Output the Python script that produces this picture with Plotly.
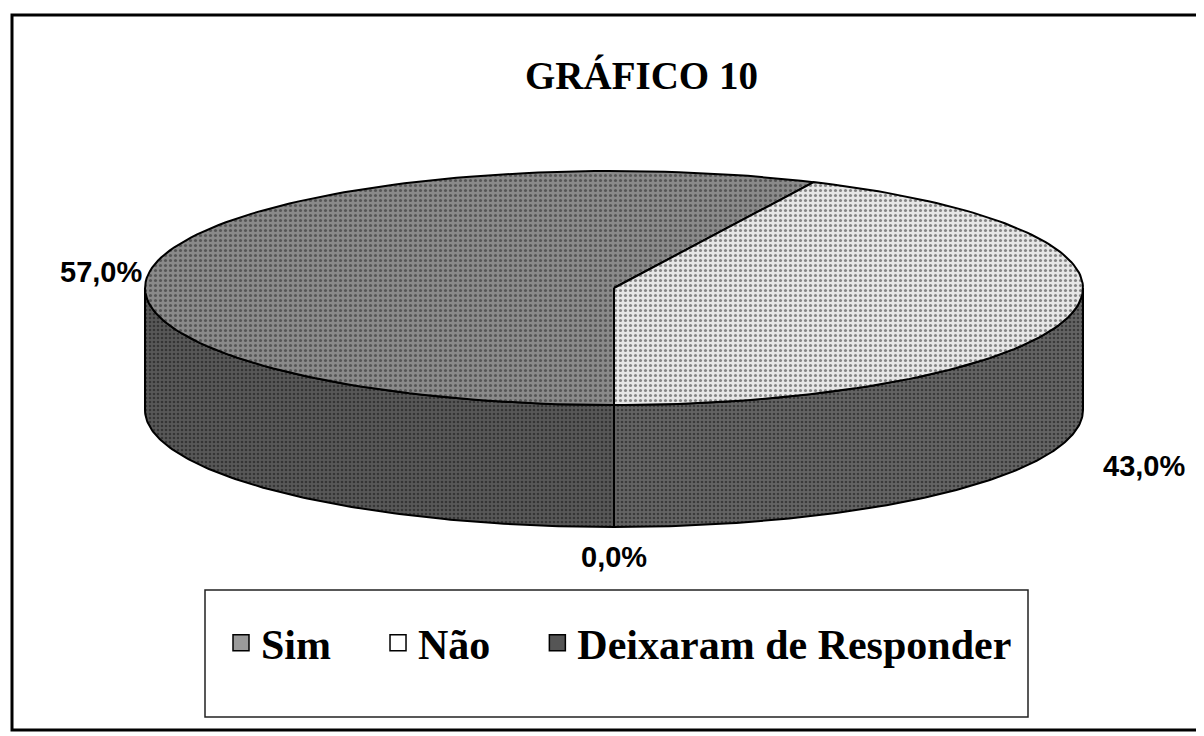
import numpy as np
import plotly.graph_objects as go

# ---- data ----
categories = ["Sim", "Não", "Deixaram de Responder"]
values = [57.0, 43.0, 0.0]
title_text = "GRÁFICO 10"

# ---- style / geometry ----
# the page body has an 8px margin, so the plot starts at (8, 8) on screen;
# axis ranges are offset so that one unit equals one screen pixel
OFF = 8
W, H = 1204 - OFF, 736 - OFF
CX, CY, RX, RY, DEPTH = 614, 288, 469, 117, 122
START = 270.0  # degrees, front of the pie; slices run clockwise
top_colors = ["#8a8a8a", "#e6e6e6", "#3a3a3a"]
side_colors = ["#585858", "#646464", "#2a2a2a"]
legend_colors = ["#9a9a9a", "#ffffff", "#555555"]


def pt(t_deg, dz=0.0):
    t = np.radians(t_deg)
    return CX + RX * np.cos(t), CY - RY * np.sin(t) + dz


def arc(t0, t1, dz=0.0, n=120):
    ts = np.linspace(t0, t1, n)
    xs, ys = pt(ts, dz)
    return list(xs), list(ys)


total = sum(values)
spans = [v / total * 360.0 for v in values]
bounds = []
t_hi = START
for s in spans:
    bounds.append((t_hi - s, t_hi))
    t_hi -= s

fig = go.Figure()

# side walls (visible front half: sin t < 0)
for i, (t0, t1) in enumerate(bounds):
    if t1 - t0 <= 0:
        continue
    for k in range(-2, 3):
        f0, f1 = 180 + 360 * k, 360 + 360 * k
        a, b = max(t0, f0), min(t1, f1)
        if b - a <= 0:
            continue
        xt, yt = arc(a, b)
        xb, yb = arc(b, a, DEPTH)
        fig.add_trace(go.Scatter(
            x=xt + xb + [xt[0]], y=yt + yb + [yt[0]],
            mode="lines", fill="toself",
            fillcolor=side_colors[i],
            fillpattern=dict(shape=".", fgcolor="#111111", bgcolor=side_colors[i],
                             size=4, solidity=0.35),
            line=dict(color="black", width=2),
            showlegend=False, hoverinfo="skip"))

# top slices
for i, (t0, t1) in enumerate(bounds):
    if t1 - t0 <= 0:
        continue
    xa, ya = arc(t0, t1)
    fig.add_trace(go.Scatter(
        x=[CX] + xa + [CX], y=[CY] + ya + [CY],
        mode="lines", fill="toself",
        fillcolor=top_colors[i],
        fillpattern=dict(shape=".", fgcolor="#222222", bgcolor=top_colors[i],
                         size=5, solidity=0.3),
        line=dict(color="black", width=2),
        showlegend=False, hoverinfo="skip"))

# legend entries (trailing non-breaking spaces widen the gaps between items)
pad = "\u00a0" * 4
for i, c in enumerate(categories):
    fig.add_trace(go.Scatter(
        x=[None], y=[None], mode="markers",
        name=c + (pad if i < len(categories) - 1 else ""),
        marker=dict(symbol="square", size=20, color=legend_colors[i],
                    line=dict(color="black", width=1.5)),
        showlegend=True))

# percentage labels
annotations = []
for i, (t0, t1) in enumerate(bounds):
    m = (t0 + t1) / 2.0
    txt = f"{values[i]:.1f}".replace(".", ",") + "%"
    c, s = np.cos(np.radians(m)), np.sin(np.radians(m))
    if s > 0:
        x, y = pt(m)
        x += 12 * np.sign(c)
        y += 10
    else:
        x, y = pt(m, DEPTH)
        x += 30 * c
        y += 30
    anchor = "left" if c > 0.3 else ("right" if c < -0.3 else "center")
    annotations.append(dict(
        x=x, y=y, xref="x", yref="y", text=txt, showarrow=False,
        xanchor=anchor, yanchor="middle",
        font=dict(family="Liberation Sans", size=29, color="black", weight="bold")))

annotations.append(dict(
    x=641, y=75, xref="x", yref="y", text=title_text, showarrow=False,
    xanchor="center", yanchor="middle",
    font=dict(family="Liberation Serif", size=39, color="black", weight="bold")))

shapes = [
    dict(type="path", path="M 1210 15 L 12 15 L 12 730 L 1210 730",
         line=dict(color="black", width=3), xref="x", yref="y"),
    dict(type="rect", x0=205, y0=590, x1=1028, y1=717,
         line=dict(color="#222222", width=1.5), xref="x", yref="y"),
]

fig.update_layout(
    width=W, height=H,
    margin=dict(l=0, r=0, t=0, b=0),
    paper_bgcolor="white", plot_bgcolor="white",
    xaxis=dict(range=[OFF, OFF + W], visible=False, fixedrange=True),
    yaxis=dict(range=[OFF + H, OFF], visible=False, fixedrange=True),
    showlegend=True,
    legend=dict(orientation="h", x=(221 - OFF) / W, xanchor="left",
                y=1 - (643 - OFF) / H, yanchor="middle",
                font=dict(family="Liberation Serif", size=42, color="black", weight="bold"),
                bgcolor="rgba(0,0,0,0)"),
    annotations=annotations,
    shapes=shapes,
)

fig.write_html("out.html")
